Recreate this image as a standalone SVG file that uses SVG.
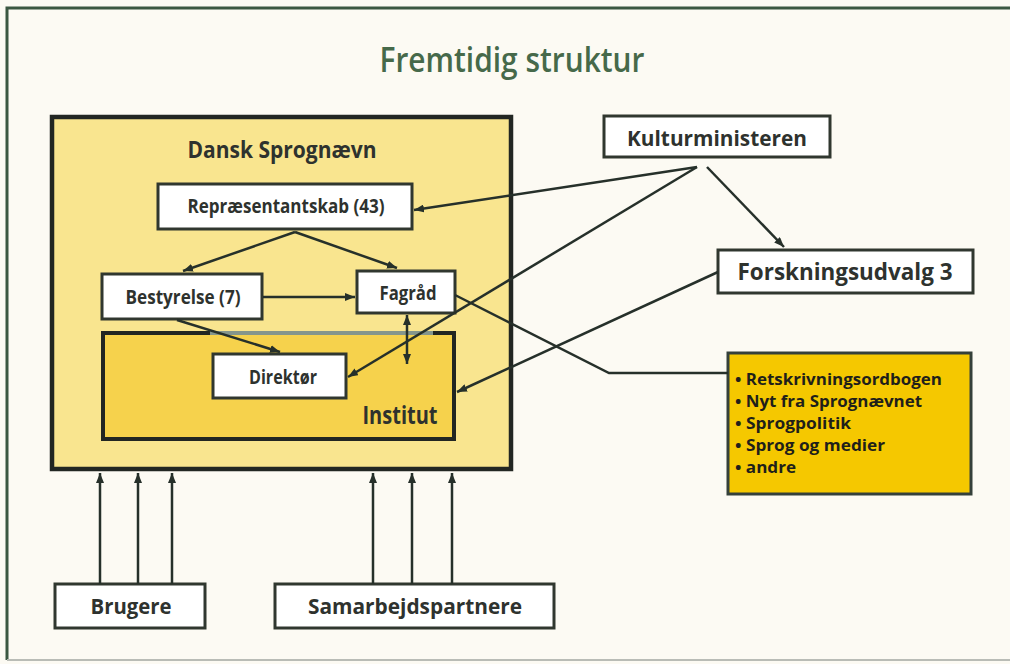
<svg xmlns="http://www.w3.org/2000/svg" width="1010" height="664" viewBox="0 0 1010 664">
<defs>
<marker id="ah" markerUnits="userSpaceOnUse" markerWidth="10" markerHeight="8" refX="10" refY="4" orient="auto-start-reverse">
<path d="M0,0 L10,4 L0,8 z" fill="#26302a"/>
</marker>
<style>
text{font-family:"Open Sans","Noto Sans","Liberation Sans",sans-serif;font-weight:700;fill:#2e322e}
.c{text-anchor:middle}
.wb{fill:#fff;stroke:#30372f;stroke-width:3}
.conn{fill:none;stroke:#26302a;stroke-width:2.5}
.arr{marker-end:url(#ah)}
.li{font-size:16px;fill:#1f1f1a}
</style>
</defs>
<rect x="0" y="0" width="1010" height="664" fill="#fcfaf3"/>
<g id="frame">
<path d="M7,660 L7,8 L1010,8" fill="none" stroke="#3b5741" stroke-width="3"/>
<path d="M7,660 L1010,660" fill="none" stroke="#b9bcb6" stroke-width="2"/>
</g>
<g id="title"><text class="c" x="512" y="72" font-size="35" style="font-weight:600;fill:#46694a" textLength="265" lengthAdjust="spacingAndGlyphs">Fremtidig struktur</text></g>
<g id="dansk-sprognaevn">
<rect x="52" y="117" width="459" height="352" fill="#f9e58f" stroke="#222622" stroke-width="4.5"/>
<text class="c" x="282" y="158" font-size="23" textLength="189" lengthAdjust="spacingAndGlyphs">Dansk Sprognævn</text>
</g>
<g id="institut">
<rect x="103" y="333" width="351" height="106" fill="#f6d24c" stroke="#222622" stroke-width="4"/>
<line x1="210" y1="333" x2="433" y2="333" stroke="#85968c" stroke-width="4"/>
<text class="c" x="400" y="424" font-size="25" textLength="75" lengthAdjust="spacingAndGlyphs">Institut</text>
</g>
<g id="repraesentantskab">
<rect class="wb" x="158" y="184" width="254" height="45"/>
<text class="c" x="286" y="213" font-size="20" textLength="197" lengthAdjust="spacingAndGlyphs">Repræsentantskab (43)</text>
</g>
<g id="bestyrelse">
<rect class="wb" x="102" y="274" width="160" height="45"/>
<text class="c" x="183" y="304" font-size="20" textLength="115" lengthAdjust="spacingAndGlyphs">Bestyrelse (7)</text>
</g>
<g id="fagraad">
<rect class="wb" x="357" y="271" width="98" height="42"/>
<text class="c" x="408" y="300" font-size="20" textLength="57" lengthAdjust="spacingAndGlyphs">Fagråd</text>
</g>
<g id="direktoer">
<rect class="wb" x="213" y="354" width="133" height="44"/>
<text class="c" x="283" y="384" font-size="20" textLength="68" lengthAdjust="spacingAndGlyphs">Direktør</text>
</g>
<g id="kulturministeren">
<rect class="wb" x="604" y="116" width="226" height="41"/>
<text class="c" x="717" y="146" font-size="21" textLength="180" lengthAdjust="spacingAndGlyphs">Kulturministeren</text>
</g>
<g id="forskningsudvalg">
<rect class="wb" x="718" y="250" width="255" height="43"/>
<text class="c" x="845" y="280" font-size="23" textLength="215" lengthAdjust="spacingAndGlyphs">Forskningsudvalg 3</text>
</g>
<g id="liste">
<rect x="728" y="353" width="243" height="141" fill="#f5c800" stroke="#34403a" stroke-width="3"/>
<text class="li" x="735" y="385" textLength="207" lengthAdjust="spacingAndGlyphs">• Retskrivningsordbogen</text>
<text class="li" x="735" y="407" textLength="187" lengthAdjust="spacingAndGlyphs">• Nyt fra Sprognævnet</text>
<text class="li" x="735" y="429" textLength="116" lengthAdjust="spacingAndGlyphs">• Sprogpolitik</text>
<text class="li" x="735" y="451" textLength="150" lengthAdjust="spacingAndGlyphs">• Sprog og medier</text>
<text class="li" x="735" y="473" textLength="61" lengthAdjust="spacingAndGlyphs">• andre</text>
</g>
<g id="brugere">
<rect class="wb" x="55" y="584" width="150" height="44"/>
<text class="c" x="131" y="614" font-size="22" textLength="81" lengthAdjust="spacingAndGlyphs">Brugere</text>
</g>
<g id="samarbejdspartnere">
<rect class="wb" x="275" y="584" width="279" height="44"/>
<text class="c" x="415" y="614" font-size="22" textLength="214" lengthAdjust="spacingAndGlyphs">Samarbejdspartnere</text>
</g>
<g id="connectors">
<path class="conn arr" d="M295,232 L183,271"/>
<path class="conn arr" d="M295,232 L397,268"/>
<path class="conn arr" d="M263,297 L355,297"/>
<path class="conn arr" d="M177,320 L280,352"/>
<path class="conn arr" d="M407,315 L407,364" style="marker-start:url(#ah)"/>
<path class="conn arr" d="M697,167 L414,210"/>
<path class="conn arr" d="M697,167 L348,377"/>
<path class="conn arr" d="M707,167 L784,247"/>
<path class="conn arr" d="M718,272 L457,392"/>
<path class="conn" d="M455,295 L609,373 L728,373"/>
<path class="conn arr" d="M100,584 L100,473"/>
<path class="conn arr" d="M138,584 L138,473"/>
<path class="conn arr" d="M172,584 L172,473"/>
<path class="conn arr" d="M373,584 L373,473"/>
<path class="conn arr" d="M412,584 L412,473"/>
<path class="conn arr" d="M452,584 L452,473"/>
</g>
</svg>
